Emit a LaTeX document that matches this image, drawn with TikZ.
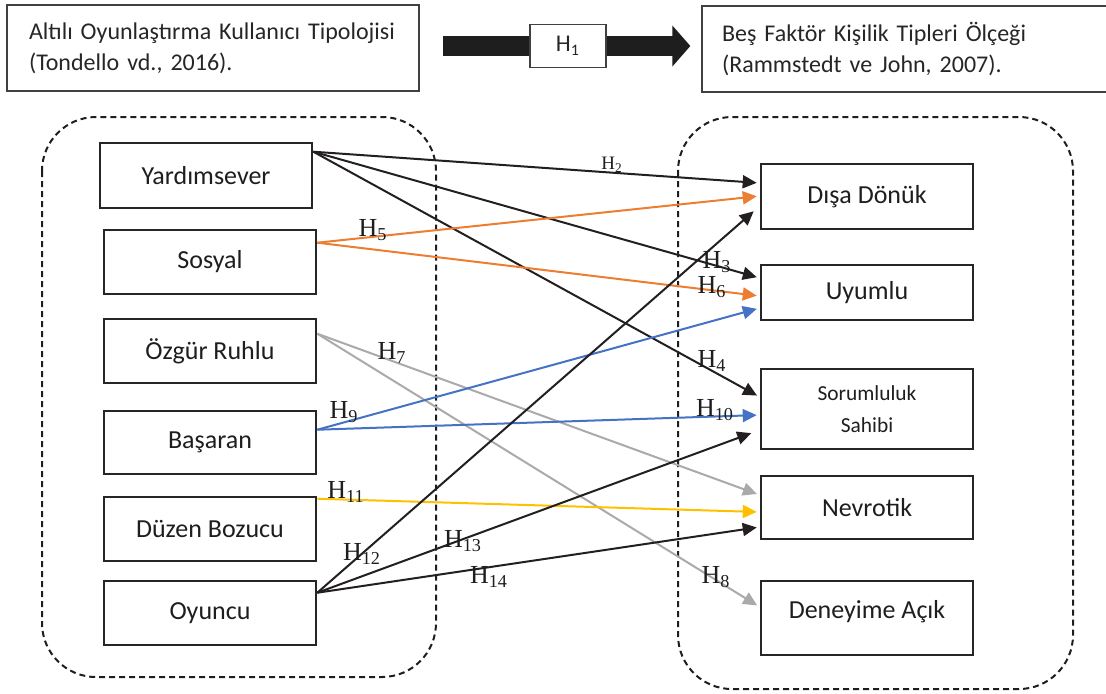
\documentclass[tikz,border=0pt]{standalone}
\usepackage{fontspec}
\setmainfont{Carlito}
\newfontfamily\hfont{Liberation Serif}
\usetikzlibrary{arrows.meta}

\begin{document}
\begin{tikzpicture}[x=0.5pt, y=-0.5pt,
    box/.style={draw={rgb,255:red,38;green,38;blue,38}, line width=1.3pt, minimum width=106pt, inner sep=0pt,
        text={rgb,255:red,30;green,30;blue,30}, font=\fontsize{13}{15.6}\selectfont},
    src/.style={draw={rgb,255:red,64;green,64;blue,64}, line width=0.65pt, minimum height=43pt, inner xsep=11pt,
        align=left, text={rgb,255:red,38;green,38;blue,38}, font=\fontsize{12}{15.5}\selectfont},
    grp/.style={draw={rgb,255:red,30;green,30;blue,30}, dash pattern=on 3pt off 2pt, line width=1pt, rounded corners=27pt},
    hyp/.style={line width=1pt, -{Triangle[length=7pt, width=6.5pt]}, shorten >=1.5pt},
    blk/.style={hyp, draw={rgb,255:red,35;green,31;blue,32}},
    orng/.style={hyp, draw={rgb,255:red,237;green,125;blue,49}},
    blu/.style={hyp, draw={rgb,255:red,68;green,114;blue,196}},
    gry/.style={hyp, draw={rgb,255:red,170;green,170;blue,170}},
    gld/.style={hyp, draw={rgb,255:red,255;green,192;blue,0}},
    lab/.style={inner sep=0pt, text={rgb,255:red,30;green,30;blue,30}, font=\hfont\fontsize{13}{15}\selectfont}]
    \useasboundingbox (0, 0) rectangle (1106, 693);

    \node [src, text width=184pt] (typ) at (213, 48) {Altılı Oyunlaştırma Kullanıcı Tipolojisi\\(Tondello vd., 2016).};
    \node [src, text width=185pt, inner xsep=10pt] (big) at (907, 49) {Beş Faktör Kişilik Tipleri Ölçeği\\(Rammstedt ve John, 2007).};
    \draw [draw={rgb,255:red,30;green,30;blue,30}, line width=10pt, -{Triangle[length=9pt, width=20pt]}]
        ([xshift=11.5pt, yshift=1pt]typ.east) -- ([xshift=-5.5pt, yshift=1.5pt]big.west);
    \node [draw={rgb,255:red,64;green,64;blue,64}, fill=white, line width=0.65pt, minimum width=38pt, minimum height=21.5pt,
        text={rgb,255:red,38;green,38;blue,38}, font=\fontsize{12}{14}\selectfont] (h1) at (568, 46) {H\textsubscript{1}};

    \draw [grp] (42, 117) rectangle (436, 677);
    \draw [grp] (678, 117) rectangle (1073, 689);

    \node [box, minimum height=32.5pt] (yard) at (206, 175.5) {Yardımsever};
    \node [box, minimum height=32pt] (sos) at (210, 262) {Sosyal};
    \node [box, minimum height=32pt] (ozg) at (210, 351) {Özgür Ruhlu};
    \node [box, minimum height=31.5pt] (bas) at (210, 442.5) {Başaran};
    \node [box, minimum height=32pt] (duz) at (210, 529) {Düzen Bozucu};
    \node [box, minimum height=32pt] (oyn) at (210, 613) {Oyuncu};

    \node [box, minimum height=32.5pt] (disa) at (867, 196.5) {Dışa Dönük};
    \node [box, minimum height=27.5pt] (uyum) at (867, 292.5) {Uyumlu};
    \node [box, minimum height=40pt, align=center, font=\fontsize{10.7}{16}\selectfont] (sor) at (867, 409) {Sorumluluk\\Sahibi};
    \node [box, minimum height=31.5pt] (nev) at (867, 507.5) {Nevrotik};
    \node [box, minimum height=37pt, text depth=9pt] (den) at (867, 618) {Deneyime Açık};

    \draw [blk] ([yshift=-5pt]yard.north east) -- ([yshift=6.75pt]disa.west);
    \draw [blk] ([yshift=-5pt]yard.north east) -- ([yshift=7.25pt]uyum.west);
    \draw [blk] ([yshift=-5pt]yard.north east) -- ([yshift=6pt]sor.west);
    \draw [orng] ([yshift=-7pt]sos.north east) -- ([yshift=0.25pt]disa.west);
    \draw [orng] ([yshift=-7pt]sos.north east) -- ([yshift=-1.75pt]uyum.west);
    \draw [gry] ([yshift=-8pt]ozg.north east) -- ([yshift=6.25pt]nev.west);
    \draw [gry] ([yshift=-8pt]ozg.north east) -- ([yshift=5.5pt]den.west);
    \draw [blu] ([yshift=-10pt]bas.north east) -- ([yshift=-7.75pt]uyum.west);
    \draw [blu] ([yshift=-10pt]bas.north east) -- ([yshift=-3pt]sor.west);
    \draw [gld] ([yshift=-1.5pt]duz.north east) -- ([yshift=-2.25pt]nev.west);
    \draw [blk, shorten >=4pt] ([yshift=-6.5pt]oyn.north east) -- ([yshift=-4.75pt]disa.west);
    \draw [blk, shorten >=4.5pt] ([yshift=-6.5pt]oyn.north east) -- ([yshift=-10.5pt]sor.west);
    \draw [blk] ([yshift=-6.5pt]oyn.north east) -- ([yshift=-9.75pt]nev.west);

    \node [lab, font=\hfont\fontsize{9.5}{11}\selectfont] (l2) at (612, 165) {H\textsubscript{2}};
    \node [lab] (l3) at (717, 262) {H\textsubscript{3}};
    \node [lab] (l4) at (712, 361) {H\textsubscript{4}};
    \node [lab] (l5) at (373, 230) {H\textsubscript{5}};
    \node [lab] (l6) at (712, 287) {H\textsubscript{6}};
    \node [lab] (l7) at (392, 353) {H\textsubscript{7}};
    \node [lab] (l8) at (716, 577) {H\textsubscript{8}};
    \node [lab] (l9) at (344, 412) {H\textsubscript{9}};
    \node [lab] (l10) at (715, 410) {H\textsubscript{10}};
    \node [lab] (l11) at (346, 492) {H\textsubscript{11}};
    \node [lab] (l12) at (362, 554) {H\textsubscript{12}};
    \node [lab] (l13) at (463, 541) {H\textsubscript{13}};
    \node [lab] (l14) at (489, 577) {H\textsubscript{14}};
\end{tikzpicture}
\end{document}
